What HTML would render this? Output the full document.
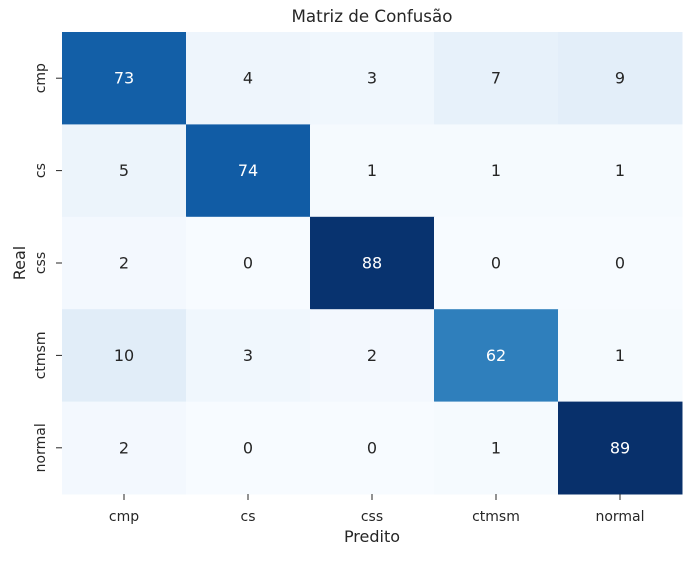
<!DOCTYPE html>
<html><head><meta charset="utf-8">
<style>
body{margin:0;background:#fff;}
svg text{font-family:"DejaVu Sans","Liberation Sans",sans-serif;}
</style></head>
<body>
<svg id="chart" width="691" height="556" xmlns="http://www.w3.org/2000/svg">
<text x="372" y="22" text-anchor="middle" font-size="16.7" fill="#262626">Matriz de Confusão</text>
<g id="cells"></g>
<g id="axes"></g>
<text x="372" y="542" text-anchor="middle" font-size="16" fill="#262626">Predito</text>
<text transform="translate(25,263) rotate(-90)" text-anchor="middle" font-size="16" fill="#262626">Real</text>
</svg>
<script>
const labels = ["cmp","cs","css","ctmsm","normal"];
const row0 = [73,4,3,7,9];
const row1 = [5,74,1,1,1];
const row2 = [2,0,88,0,0];
const row3 = [10,3,2,62,1];
const row4 = [2,0,0,1,89];
const matrix = [row0,row1,row2,row3,row4];

const X0=62, X1=682, Y0=32, Y1=494;
const n=labels.length;
const cw=(X1-X0)/n, ch=(Y1-Y0)/n;
const xPos=i=>X0+i*cw;
const yPos=i=>Y0+i*ch;
const allVals=matrix.flat();
const vmin=Math.min(...allVals), vmax=Math.max(...allVals);
const stops=["#f7fbff","#deebf7","#c6dbef","#9ecae1","#6baed6","#4292c6","#2171b5","#08519c","#08306b"];
function hex(h){return [1,3,5].map(i=>parseInt(h.substr(i,2),16));}
function blues(t){
  t=Math.max(0,Math.min(1,t));
  const p=t*(stops.length-1), i=Math.min(Math.floor(p),stops.length-2), f=p-i;
  const a=hex(stops[i]), b=hex(stops[i+1]);
  return a.map((v,k)=>Math.round(v+(b[k]-v)*f));
}
const NS="http://www.w3.org/2000/svg";
const cells=document.getElementById('cells');
const axes=document.getElementById('axes');
matrix.forEach((row,r)=>row.forEach((v,c)=>{
  const rgb=blues((v-vmin)/(vmax-vmin));
  const rect=document.createElementNS(NS,'rect');
  
  
  rect.setAttribute('x',xPos(c));rect.setAttribute('y',yPos(r));
  rect.setAttribute('width',cw+0.5);rect.setAttribute('height',ch+0.5);
  rect.setAttribute('fill',`rgb(${rgb.join(',')})`);
  cells.appendChild(rect);
  const lum=(0.299*rgb[0]+0.587*rgb[1]+0.114*rgb[2])/255;
  const t=document.createElementNS(NS,'text');
  
  
  t.setAttribute('x',xPos(c)+cw/2);t.setAttribute('y',yPos(r)+ch/2+5.5);
  t.setAttribute('text-anchor','middle');t.setAttribute('font-size','16');
  t.setAttribute('fill',lum<0.6?'#ffffff':'#262626');
  t.textContent=v;
  cells.appendChild(t);
}));
labels.forEach((l,i)=>{
  const cx=xPos(i)+cw/2, cy=yPos(i)+ch/2;
  const tx=document.createElementNS(NS,'line');
  
  
  tx.setAttribute('x1',cx);tx.setAttribute('x2',cx);tx.setAttribute('y1',Y1);tx.setAttribute('y2',Y1+6);
  tx.setAttribute('stroke','#262626');axes.appendChild(tx);
  const xl=document.createElementNS(NS,'text');
  
  
  xl.setAttribute('x',cx);xl.setAttribute('y',Y1+27);xl.setAttribute('text-anchor','middle');
  xl.setAttribute('font-size','14');xl.setAttribute('fill','#262626');xl.textContent=l;axes.appendChild(xl);
  const ty=document.createElementNS(NS,'line');
  
  
  ty.setAttribute('x1',X0-6);ty.setAttribute('x2',X0);ty.setAttribute('y1',cy);ty.setAttribute('y2',cy);
  ty.setAttribute('stroke','#262626');axes.appendChild(ty);
  const yl=document.createElementNS(NS,'text');
  
  
  yl.setAttribute('transform',`translate(45,${cy}) rotate(-90)`);yl.setAttribute('text-anchor','middle');
  yl.setAttribute('font-size','14');yl.setAttribute('fill','#262626');yl.textContent=l;axes.appendChild(yl);
});
</script>
</body></html>
